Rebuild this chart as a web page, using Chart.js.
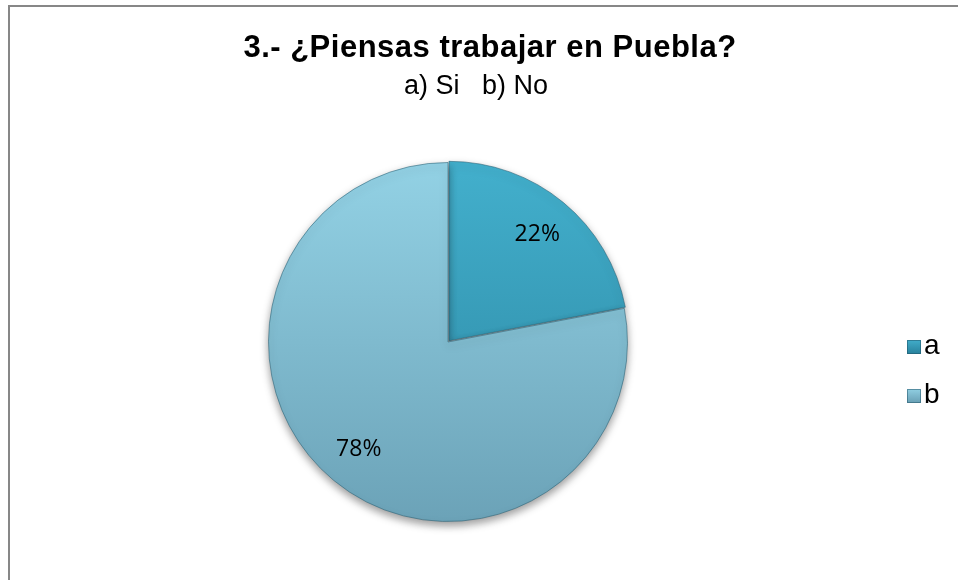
<!DOCTYPE html>
<html>
<head>
<meta charset="utf-8">
<script src="https://cdn.jsdelivr.net/npm/chart.js@4.4.1/dist/chart.umd.min.js"></script>
<style>
  html, body { margin: 0; padding: 0; background: #fff; overflow: hidden; }
  #marco { position: absolute; left: 8px; top: 5px; width: 1100px; height: 700px; border: 2px solid #878787; }
  #grafico { position: absolute; left: 0; top: 0; }
</style>
</head>
<body>
<div id="marco"></div>
<canvas id="grafico" width="958" height="580"></canvas>
<script>
// datos de la pregunta 3
const categorias = ['a', 'b'];
const porcentajes = [22, 78];
const titulo = '3.- ¿Piensas trabajar en Puebla?';
const subtitulo = 'a) Si   b) No';

// colores (arriba / abajo del degradado)
const coresArriba = ['#43B0CD', '#93D2E5'];
const coresAbajo = ['#2A849F', '#6BA2B7'];

function degradado(context) {
  const chart = context.chart;
  const area = chart.chartArea;
  const i = context.dataIndex;
  if (!area) return coresAbajo[i];
  const g = chart.ctx.createLinearGradient(0, area.top, 0, area.bottom);
  g.addColorStop(0, coresArriba[i]);
  g.addColorStop(1, coresAbajo[i]);
  return g;
}

const pluginSombra = {
  id: 'sombra',
  beforeDatasetsDraw(chart) {
    const ctx = chart.ctx;
    ctx.save();
    ctx.shadowColor = 'rgba(0, 0, 0, 0.4)';
    ctx.shadowBlur = 9;
    ctx.shadowOffsetY = 4;
  },
  afterDatasetsDraw(chart) {
    chart.ctx.restore();
  },
};

const pluginEtiquetas = {
  id: 'etiquetas',
  afterDraw(chart) {
    const ctx = chart.ctx;
    const meta = chart.getDatasetMeta(0);

    // porcentajes dentro de cada rebanada
    ctx.save();
    ctx.fillStyle = '#000';
    ctx.font = '23px "Open Sans"';
    ctx.textAlign = 'center';
    ctx.textBaseline = 'middle';
    meta.data.forEach((arco, index) => {
      const p = arco.getProps(['x', 'y', 'startAngle', 'endAngle', 'outerRadius'], true);
      const medio = (p.startAngle + p.endAngle) / 2;
      const r = p.outerRadius * 0.78;
      ctx.fillText(porcentajes[index] + '%', p.x + Math.cos(medio) * r, p.y + Math.sin(medio) * r);
    });

    // titulo
    ctx.fillStyle = '#000';
    ctx.textBaseline = 'alphabetic';
    ctx.font = 'bold 31px "Liberation Sans"';
    ctx.letterSpacing = '0.5px';
    ctx.fillText(titulo, 490, 57);
    ctx.font = '27px "Liberation Sans"';
    ctx.letterSpacing = '0px';
    ctx.fillText(subtitulo, 476, 94);

    // leyenda
    ctx.textAlign = 'left';
    ctx.textBaseline = 'middle';
    ctx.font = '28px "Liberation Sans"';
    categorias.forEach((cat, index) => {
      const y = 346 + index * 49;
      const g = ctx.createLinearGradient(0, y - 7, 0, y + 7);
      g.addColorStop(0, coresArriba[index]);
      g.addColorStop(1, coresAbajo[index]);
      ctx.fillStyle = g;
      ctx.fillRect(907, y - 6, 14, 14);
      ctx.strokeStyle = 'rgba(30, 80, 100, 0.5)';
      ctx.lineWidth = 1;
      ctx.strokeRect(907.5, y - 5.5, 13, 13);
      ctx.fillStyle = '#000';
      ctx.fillText(cat, 924, y);
    });
    ctx.restore();
  },
};

const grafico = new Chart(document.getElementById('grafico').getContext('2d'), {
  type: 'pie',
  data: {
    labels: categorias,
    datasets: [
      {
        data: porcentajes,
        backgroundColor: degradado,
        borderColor: 'rgba(40, 95, 115, 0.55)',
        borderWidth: 1,
        offset: [6, 0],
      },
    ],
  },
  options: {
    responsive: false,
    animation: false,
    layout: {
      padding: { left: 88, right: 150, top: 159, bottom: 55 },
    },
    plugins: {
      legend: { display: false },
      tooltip: { enabled: false },
      title: { display: false },
    },
  },
  plugins: [pluginSombra, pluginEtiquetas],
});
</script>
</body>
</html>
